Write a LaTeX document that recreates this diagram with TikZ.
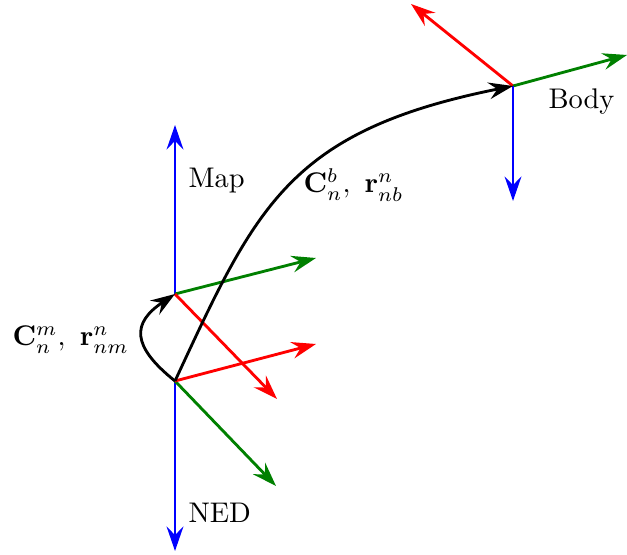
\documentclass[tikz,border=0pt]{standalone}
\usetikzlibrary{arrows.meta}
\begin{document}
\begin{tikzpicture}[x=0.352pt,y=-0.352pt,
  tip/.style={-{Stealth[length=8.6pt,width=5.9pt,inset=3pt]}},
  axis/.style={line width=1pt,tip},
  conn/.style={line width=1pt,black,tip},
  lbl/.style={inner sep=0pt,anchor=base west}]
\useasboundingbox (0,0) rectangle (627,555);
% origins
\coordinate (ned) at (175,381);
\coordinate (map) at (175,294);
\coordinate (body) at (513,86);
% axis end points
\coordinate (nedD) at (175,551);
\coordinate (nedE) at (276,486);
\coordinate (nedN) at (316,344);
\coordinate (mapU) at (175,125);
\coordinate (mapG) at (316,258);
\coordinate (mapR) at (277,399);
\coordinate (bodyR) at (411,4);
\coordinate (bodyG) at (627,55);
\coordinate (bodyB) at (513,201);
% NED frame
\draw[axis,blue] (ned) -- (nedD);
\draw[axis,green!50!black] (ned) -- (nedE);
\draw[axis,red] (ned) -- (nedN);
% Map frame
\draw[axis,blue] (map) -- (mapU);
\draw[axis,green!50!black] (map) -- (mapG);
\draw[axis,red] (map) -- (mapR);
% Body frame
\draw[axis,red] (body) -- (bodyR);
\draw[axis,green!50!black] (body) -- (bodyG);
\draw[axis,blue] (body) -- (bodyB);
% connectors
\draw[conn] (ned) .. controls (256,207) and (288,131) .. (body);
\draw[conn] (ned) .. controls (130.7,345.6) and (132.1,322.7) .. (map);
% labels
\node[lbl] (lmap) at (188,188) {Map};
\node[lbl] (lned) at (188,522) {NED};
\node[lbl] (lbody) at (548,109) {Body};
\node[lbl] (lcm) at (12,346) {$\mathbf{C}_n^m,\ \mathbf{r}_{nm}^n$};
\node[lbl] (lcb) at (303,193) {$\mathbf{C}_n^b,\ \mathbf{r}_{nb}^n$};
\end{tikzpicture}
\end{document}
